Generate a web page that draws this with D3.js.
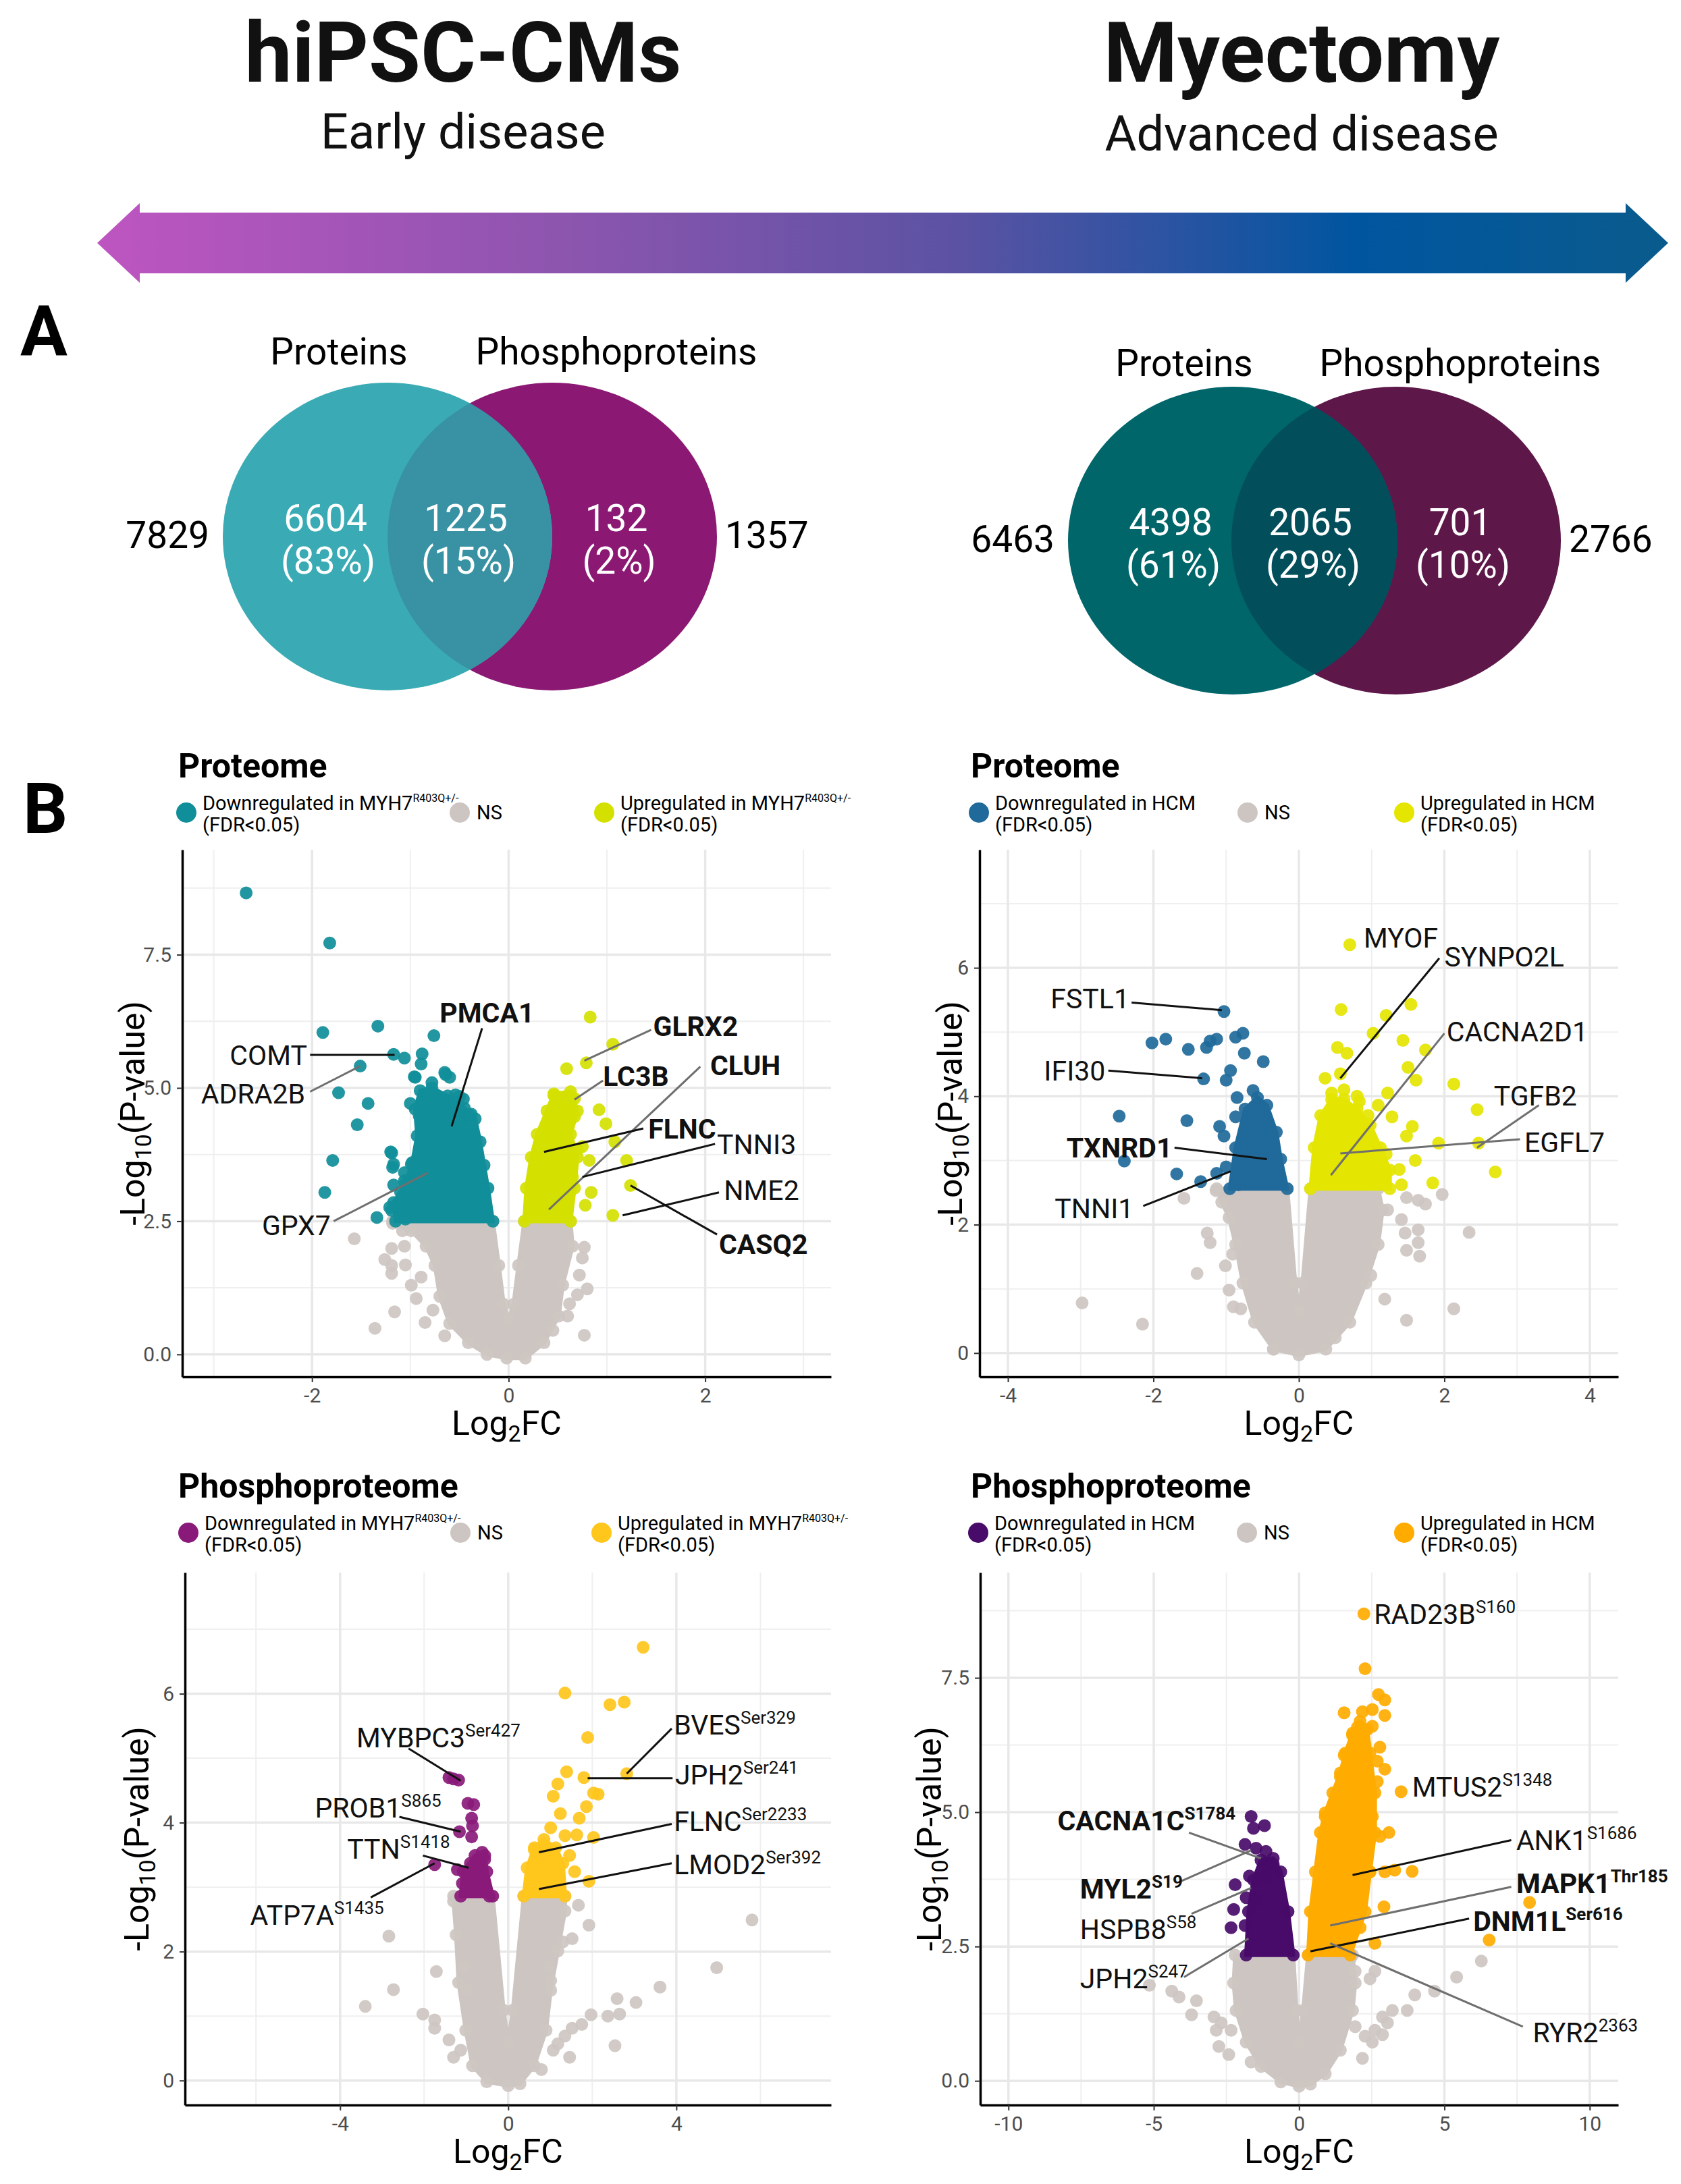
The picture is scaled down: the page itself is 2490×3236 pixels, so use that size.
<!DOCTYPE html>
<html>
<head>
<meta charset="utf-8">
<script src="https://cdn.jsdelivr.net/npm/d3@7"></script>
<style>
  body { margin: 0; background: #fff; }
  text { font-family: Roboto, "Noto Sans", sans-serif; }
</style>
</head>
<body>
<svg id="fig" width="2490" height="3236"></svg>
<script>
// header + venn values
const stageTitles = ["hiPSC-CMs", "Myectomy"];
const stageSubtitles = ["Early disease", "Advanced disease"];
const vennSetNames = ["Proteins", "Phosphoproteins"];
const vennTotals = [[7829, 1357], [6463, 2766]];
const vennCounts = [[6604, 1225, 132], [4398, 2065, 701]];
const vennPercents = [["83%", "15%", "2%"], ["61%", "29%", "10%"]];

// ---- top-left: hiPSC-CMs proteome ----
const tlNsCloud = [[-0.02,-0.07],[-0.22,0],[-0.41,0.22],[-0.60,0.58],[-0.70,1.09],[-0.75,1.67],[-0.84,2.03],[-0.99,2.32],[-1.18,2.46],[-1.18,2.5],[-0.16,2.5],[-0.10,1.67],[-0.05,0.94],[0,0.65],[0.05,0.94],[0.10,1.67],[0.16,2.5],[0.63,2.5],[0.65,2.03],[0.55,1.30],[0.51,0.72],[0.36,0.22],[0.17,-0.07]];
const tlNsPts = [[-1.57,2.17],[-1.19,1.99],[-1.06,2.03],[-1.26,1.78],[-1.19,1.67],[-1.19,1.52],[-1.05,1.68],[-1.16,0.80],[-1.36,0.49],[-0.94,1.05],[-0.77,0.83],[0.77,2.01],[0.75,1.81],[0.72,1.49],[0.80,1.23],[0.70,1.12],[0.77,0.36],[0.60,0.72],[-0.99,1.30],[-0.89,1.45],[-1.08,2.32],[-0.85,0.60],[-0.65,0.35],[0.45,0.45],[0.62,0.95]];
const tlDownCloud = [[-1.15,2.5],[-1.17,2.85],[-1.05,3.2],[-0.98,3.6],[-0.93,4.1],[-0.95,4.6],[-0.90,4.95],[-0.78,5.0],[-0.62,4.85],[-0.45,4.62],[-0.34,4.42],[-0.29,3.99],[-0.25,3.55],[-0.21,3.12],[-0.16,2.5]];
const tlDownPts = [[-2.67,8.66],[-1.82,7.72],[-1.89,6.04],[-1.33,6.16],[-0.76,5.98],[-1.17,5.63],[-1.06,5.56],[-0.88,5.64],[-0.89,5.45],[-1.51,5.41],[-1.73,4.91],[-1.43,4.71],[-1.54,4.31],[-1.79,3.64],[-1.87,3.04],[-1.34,2.57],[-1.19,3.78],[-1.18,3.51],[-1.19,2.70],[-1.05,2.54],[-0.64,5.25],[-0.99,3.57],[-1.06,3.26],[-0.75,3.04],[-0.50,4.84],[-0.40,4.49],[-0.60,5.20],[-0.95,5.20],[-1.10,3.05],[-1.12,2.80],[-1.20,3.80],[-1.17,3.57],[-1.17,3.18],[-1.21,2.76],[-1.06,3.41],[-1.01,3.02],[-0.65,5.29],[-0.54,4.87],[-0.46,4.79],[-0.38,4.51],[-1.00,4.71],[-0.91,4.48],[-0.96,5.21],[-0.78,5.10]];
const tlUpCloud = [[0.16,2.5],[0.18,3.12],[0.23,3.70],[0.29,4.13],[0.39,4.57],[0.46,4.89],[0.63,4.93],[0.70,4.57],[0.63,4.13],[0.70,3.70],[0.67,3.12],[0.63,2.5]];
const tlUpPts = [[0.83,6.33],[1.06,5.82],[0.59,5.36],[0.79,5.47],[0.46,4.86],[0.63,4.84],[0.67,4.80],[0.92,4.59],[0.99,4.33],[0.53,4.35],[0.67,4.46],[1.08,3.99],[1.20,3.64],[0.82,3.64],[0.84,3.04],[1.06,2.61],[1.24,3.17],[0.46,4.57],[0.39,4.13],[0.70,3.84],[0.65,3.33],[0.75,3.90],[0.78,2.80]];
// [gene, site, log2FC, -log10 p]
const tlLabels = [["PMCA1","",-0.58,4.28],["COMT","",-1.16,5.62],["ADRA2B","",-1.51,5.41],["GPX7","",-0.82,3.41],["GLRX2","",0.77,5.51],["LC3B","",0.67,4.78],["CLUH","",0.41,2.72],["FLNC","",0.36,3.80],["TNNI3","",0.75,3.33],["NME2","",1.16,2.61],["CASQ2","",1.24,3.17]];
// [text x, text y, leader x, leader y, anchor]
const tlLabelPlace = [[-0.22,6.41,-0.27,6.12,"middle"],[-2.05,5.62,-2.02,5.62,"end"],[-2.07,4.89,-2.02,4.93,"end"],[-1.81,2.43,-1.78,2.5,"end"],[1.47,6.16,1.45,6.09,"start"],[0.96,5.22,0.96,5.14,"start"],[2.05,5.43,1.95,5.40,"start"],[1.42,4.24,1.37,4.24,"start"],[2.12,3.95,2.10,3.95,"start"],[2.19,3.08,2.14,3.04,"start"],[2.14,2.07,2.12,2.25,"start"]];
const tlBold = ["PMCA1","GLRX2","LC3B","CLUH","FLNC","CASQ2"];
const tlGreyLeaders = ["ADRA2B","GPX7","GLRX2","LC3B","CLUH"];

// ---- top-right: myectomy proteome ----
const trNsCloud = [[0,-0.03],[-0.35,0.06],[-0.61,0.48],[-0.77,1.09],[-0.87,1.69],[-0.96,2.11],[-1.06,2.35],[-1.13,2.56],[-0.16,2.56],[-0.05,1.09],[0,0.66],[0.05,1.09],[0.16,2.56],[1.09,2.56],[1.15,2.23],[1.09,1.69],[0.92,1.09],[0.70,0.48],[0.37,0.06]];
const trNsPts = [[-1.58,2.41],[-1.14,2.53],[-1.26,1.87],[-1.22,1.72],[-0.91,1.54],[-1.01,1.36],[-1.40,1.24],[-0.96,0.98],[-2.98,0.78],[-2.15,0.45],[-0.90,0.72],[-0.80,0.69],[1.48,2.42],[1.64,2.38],[1.97,2.47],[1.74,2.32],[2.34,1.88],[1.46,1.87],[1.64,1.92],[1.64,1.72],[1.66,1.51],[1.48,1.60],[1.18,0.84],[2.13,0.69],[1.48,0.51],[0.99,1.21],[0.50,0.24],[-0.35,0.06],[1.22,2.23],[1.41,2.08]];
const trDownCloud = [[-0.95,2.56],[-0.87,3.20],[-0.74,3.80],[-0.57,3.98],[-0.44,3.86],[-0.31,3.44],[-0.25,3.02],[-0.16,2.56]];
const trDownPts = [[-1.03,5.32],[-2.02,4.83],[-1.83,4.89],[-1.52,4.73],[-1.27,4.76],[-1.22,4.86],[-1.13,4.89],[-0.87,4.92],[-0.77,4.98],[-0.75,4.67],[-0.49,4.54],[-1.31,4.27],[-0.94,4.40],[-1.00,4.25],[-0.63,4.09],[-0.85,3.98],[-2.47,3.69],[-1.54,3.62],[-2.40,2.99],[-1.68,2.79],[-1.35,2.67],[-1.09,3.53],[-1.03,3.38],[-1.13,2.80],[-0.87,3.68],[-0.83,2.62],[-1.00,2.90]];
const trUpCloud = [[0.16,2.56],[0.21,3.20],[0.30,3.70],[0.45,3.95],[0.62,3.95],[0.80,3.80],[0.98,3.55],[1.12,3.20],[1.25,2.85],[1.25,2.56]];
const trUpPts = [[0.70,6.36],[0.58,5.35],[1.54,5.43],[1.20,5.26],[1.02,4.98],[1.43,4.87],[0.53,4.76],[0.66,4.67],[1.74,4.72],[1.50,4.45],[1.61,4.25],[2.13,4.19],[0.36,4.28],[0.57,4.35],[1.22,4.05],[2.45,3.79],[1.92,3.27],[2.47,3.27],[2.70,2.82],[1.84,2.65],[1.56,3.53],[1.48,3.38],[1.28,3.68],[1.09,3.86],[0.34,3.41],[1.38,2.86],[1.41,2.62],[0.83,3.92],[1.60,3.00],[1.20,3.10],[0.62,4.10],[0.80,4.00],[0.45,4.05],[0.95,3.70]];
const trLabels = [["MYOF","",0.70,6.36],["SYNPO2L","",0.57,4.28],["FSTL1","",-1.06,5.34],["IFI30","",-1.33,4.28],["CACNA2D1","",0.44,2.77],["TGFB2","",2.45,3.20],["EGFL7","",0.57,3.11],["TXNRD1","",-0.44,3.02],["TNNI1","",-0.94,2.83]];
const trLabelPlace = [[0.89,6.47,null,null,"start"],[2.00,6.18,1.93,6.15,"start"],[-2.33,5.52,-2.30,5.46,"end"],[-2.66,4.40,-2.62,4.40,"end"],[2.03,5.01,2.00,4.98,"start"],[2.68,4.01,3.30,3.86,"start"],[3.10,3.29,3.04,3.33,"start"],[-1.74,3.20,-1.71,3.20,"end"],[-2.27,2.26,-2.14,2.29,"end"]];
const trBold = ["TXNRD1"];
const trGreyLeaders = ["CACNA2D1","TGFB2","EGFL7"];

// ---- bottom-left: hiPSC-CMs phosphoproteome ----
const blNsCloud = [[0,-0.08],[-0.51,-0.02],[-0.85,0.23],[-1.01,0.78],[-1.18,1.52],[-1.24,2.26],[-1.30,2.78],[-1.30,2.86],[-0.37,2.86],[-0.11,1.09],[0,0.60],[0.11,1.09],[0.37,2.86],[1.35,2.86],[1.35,2.63],[1.18,2.01],[1.01,1.40],[0.90,0.78],[0.62,0.23],[0.28,-0.05]];
const blNsPts = [[-2.84,2.24],[-1.71,1.69],[-2.73,1.41],[-3.40,1.15],[-2.03,1.03],[-1.75,0.94],[-1.75,0.81],[-1.41,0.63],[-1.30,0.36],[-1.13,0.47],[1.67,2.72],[1.92,2.41],[1.52,2.20],[1.30,2.15],[5.80,2.49],[4.96,1.75],[3.61,1.45],[3.04,1.21],[2.59,1.27],[2.65,1.03],[2.37,1.00],[1.97,1.02],[1.75,0.87],[1.52,0.81],[1.35,0.69],[1.18,0.57],[1.07,0.47],[2.54,0.54],[1.46,0.36],[0.79,0.17],[0.96,1.77],[1.01,1.55],[-1.07,1.77],[-0.99,1.40]];
const blDownCloud = [[-1.13,2.86],[-1.07,3.24],[-0.79,3.49],[-0.56,3.49],[-0.51,3.24],[-0.37,2.86]];
const blDownPts = [[-1.41,4.70],[-1.18,4.66],[-1.30,4.68],[-0.96,4.30],[-0.82,4.28],[-0.87,4.07],[-0.85,3.95],[-1.16,3.86],[-0.87,3.78],[-0.62,3.54],[-0.56,3.43],[-1.75,3.35],[-1.21,3.27],[-0.90,3.37],[-0.87,3.19],[-0.62,3.27],[-1.09,3.06],[-0.79,3.00],[-0.51,2.94],[-1.01,2.94],[-0.45,2.86]];
const blUpCloud = [[0.37,2.86],[0.45,3.30],[0.62,3.61],[0.85,3.74],[1.13,3.61],[1.30,3.37],[1.35,2.86]];
const blUpPts = [[3.21,6.72],[1.35,6.01],[2.42,5.83],[2.76,5.87],[1.89,5.32],[1.39,4.79],[1.80,4.70],[2.82,4.76],[2.03,4.46],[2.14,4.44],[1.18,4.60],[1.07,4.41],[1.86,4.25],[1.24,4.14],[1.69,4.07],[1.01,3.92],[1.63,3.81],[2.03,3.77],[1.35,3.80],[1.46,3.49],[1.58,3.24],[1.92,3.09],[0.62,3.58],[1.13,3.34]];
const blLabels = [["MYBPC3","Ser427",-1.13,4.65],["PROB1","S865",-1.13,3.86],["TTN","S1418",-0.94,3.30],["ATP7A","S1435",-1.75,3.37],["BVES","Ser329",2.82,4.76],["JPH2","Ser241",1.89,4.69],["FLNC","Ser2233",0.73,3.54],["LMOD2","Ser392",0.73,2.97]];
const blLabelPlace = [[-3.61,5.32,-2.37,5.15,"start"],[-4.60,4.23,-2.59,4.09,"start"],[-3.83,3.60,-2.03,3.49,"start"],[-6.14,2.57,-3.27,2.84,"start"],[3.94,5.52,3.89,5.46,"start"],[3.97,4.75,3.91,4.69,"start"],[3.94,4.03,3.89,3.98,"start"],[3.94,3.35,3.89,3.37,"start"]];
const blBold = [];
const blGreyLeaders = [];

// ---- bottom-right: myectomy phosphoproteome ----
const brNsCloud = [[0,-0.10],[-0.63,-0.02],[-1.31,0.27],[-1.82,0.72],[-2.17,1.31],[-2.25,1.82],[-2.20,2.34],[-0.20,2.34],[-0.09,1.31],[0,0.72],[0.14,1.31],[0.31,2.34],[1.84,2.34],[1.93,1.82],[1.84,1.31],[1.42,0.57],[0.90,0.13],[0.39,-0.06]];
const brNsPts = [[-5.15,1.78],[-4.38,1.67],[-4.13,1.56],[-3.53,1.49],[-3.70,1.23],[-2.93,1.19],[-2.85,0.94],[-2.68,1.08],[-2.34,0.94],[-2.76,0.64],[-2.42,0.49],[-1.65,0.35],[6.27,2.23],[5.42,1.93],[4.66,1.67],[3.98,1.60],[3.72,1.31],[3.21,1.31],[2.87,1.19],[3.04,1.08],[2.61,0.94],[2.27,0.83],[1.93,1.01],[2.87,0.86],[2.52,0.72],[2.18,0.42],[1.93,2.04],[2.61,2.04],[1.76,2.27],[2.44,1.90]];
const brDownCloud = [[-1.82,2.34],[-1.74,3.15],[-1.57,3.74],[-1.31,4.11],[-0.89,4.14],[-0.63,3.89],[-0.38,3.15],[-0.20,2.34]];
const brDownPts = [[-1.65,4.92],[-1.19,4.75],[-1.57,4.70],[-1.86,4.40],[-1.48,4.33],[-1.14,4.27],[-0.89,4.03],[-1.71,3.81],[-2.20,3.65],[-1.82,3.41],[-2.25,3.19],[-2.34,2.85],[-1.86,2.89],[-1.48,3.37],[-1.14,3.81]];
const brUpCloud = [[0.31,2.34],[0.39,3.15],[0.56,3.89],[0.73,4.62],[0.90,4.99],[1.16,5.36],[1.42,5.73],[1.59,6.10],[1.84,6.47],[2.10,6.69],[2.35,6.54],[2.44,6.10],[2.61,5.36],[2.61,4.62],[2.44,3.89],[2.27,3.15],[1.76,2.34]];
const brUpPts = [[2.23,8.69],[2.27,7.67],[2.73,7.19],[2.95,7.09],[1.55,6.85],[2.18,6.87],[2.52,6.91],[2.95,6.80],[2.52,6.60],[2.01,6.58],[1.84,6.43],[2.27,6.25],[2.78,6.21],[1.55,6.06],[2.69,5.95],[2.95,5.80],[2.27,5.69],[1.42,5.66],[2.69,5.57],[3.51,5.38],[1.59,5.36],[2.44,5.21],[1.42,5.07],[0.90,4.92],[2.52,4.92],[3.09,4.62],[2.78,4.55],[2.27,4.33],[3.29,3.92],[3.89,3.90],[2.95,3.89],[2.44,3.89],[2.92,3.24],[7.93,3.32],[6.54,2.62],[2.61,2.56],[2.10,2.85]];
const brLabels = [["RAD23B","S160",2.23,8.69],["MTUS2","S1348",3.51,5.38],["CACNA1C","S1784",-1.31,4.14],["MYL2","S19",-1.65,4.29],["HSPB8","S58",-1.65,3.59],["JPH2","S247",-1.74,2.65],["ANK1","S1686",1.84,3.83],["MAPK1","Thr185",1.07,2.89],["DNM1L","Ser616",0.39,2.41],["RYR2","2363",1.07,2.56]];
const brLabelPlace = [[2.58,8.69,null,null,"start"],[3.89,5.47,null,null,"start"],[-8.31,4.85,-3.79,4.62,"start"],[-7.54,3.58,-4.13,3.70,"start"],[-7.54,2.82,-3.70,3.11,"start"],[-7.54,1.91,-3.96,1.93,"start"],[7.47,4.48,7.30,4.48,"start"],[7.47,3.68,7.30,3.61,"start"],[5.99,2.98,5.85,3.02,"start"],[8.04,0.90,7.70,1.01,"start"]];
const brBold = ["CACNA1C","MYL2","MAPK1","DNM1L"];
const brGreyLeaders = ["CACNA1C","MYL2","HSPB8","JPH2","MAPK1","RYR2"];

const svg = d3.select("#fig");
const defs = svg.append("defs");

// ---------- header ----------
const grad = defs.append("linearGradient").attr("id", "stageGrad")
  .attr("x1", "0%").attr("x2", "100%").attr("y1", "0%").attr("y2", "0%");
[[0, "#be55c1"], [0.3, "#8c55ae"], [0.55, "#5b52a3"], [0.8, "#0055a0"], [1, "#0a5b8c"]]
  .forEach(s => grad.append("stop").attr("offset", s[0]).attr("stop-color", s[1]));

const arrowPath = d3.path();
arrowPath.moveTo(144, 360);
arrowPath.lineTo(207, 301);
arrowPath.lineTo(207, 315);
arrowPath.lineTo(2408, 315);
arrowPath.lineTo(2408, 301);
arrowPath.lineTo(2471, 360);
arrowPath.lineTo(2408, 419);
arrowPath.lineTo(2408, 405);
arrowPath.lineTo(207, 405);
arrowPath.lineTo(207, 419);
arrowPath.closePath();
svg.append("path").attr("d", arrowPath.toString()).attr("fill", "url(#stageGrad)");

const stageX = [686, 1928];
stageTitles.forEach((t, i) => {
  svg.append("text").attr("x", stageX[i]).attr("y", 121).attr("text-anchor", "middle")
    .attr("font-size", 125).attr("font-weight", 700).attr("fill", "#111").text(t);
  svg.append("text").attr("x", stageX[i]).attr("y", [220, 223][i]).attr("text-anchor", "middle")
    .attr("font-size", 72).attr("fill", "#111").text(stageSubtitles[i]);
});

svg.append("text").attr("x", 30).attr("y", 527).attr("font-size", 104).attr("font-weight", 700).text("A");
svg.append("text").attr("x", 34).attr("y", 1234).attr("font-size", 104).attr("font-weight", 700).text("B");

// ---------- venn diagrams ----------
const vennLayout = [
  { cx: [574, 818], cy: 795, nameY: 540, colors: ["#3aabb4", "#8b1872", "#3992a3"] },
  { cx: [1826, 2068], cy: 801, nameY: 557, colors: ["#00666a", "#5d1749", "#024e5b"] }
];
const rx = 244, ry = 228;
vennLayout.forEach((v, i) => {
  const g = svg.append("g");
  g.append("ellipse").attr("cx", v.cx[1]).attr("cy", v.cy).attr("rx", rx).attr("ry", ry).attr("fill", v.colors[1]);
  g.append("ellipse").attr("cx", v.cx[0]).attr("cy", v.cy).attr("rx", rx).attr("ry", ry).attr("fill", v.colors[0]);
  defs.append("clipPath").attr("id", "vclip" + i)
    .append("ellipse").attr("cx", v.cx[0]).attr("cy", v.cy).attr("rx", rx).attr("ry", ry);
  g.append("ellipse").attr("cx", v.cx[1]).attr("cy", v.cy).attr("rx", rx).attr("ry", ry)
    .attr("fill", v.colors[2]).attr("clip-path", `url(#vclip${i})`);

  // set names
  g.append("text").attr("x", v.cx[0] - 72).attr("y", v.nameY).attr("text-anchor", "middle")
    .attr("font-size", 55).text(vennSetNames[0]);
  g.append("text").attr("x", v.cx[1] + 95).attr("y", v.nameY).attr("text-anchor", "middle")
    .attr("font-size", 55).text(vennSetNames[1]);
  // totals
  g.append("text").attr("x", v.cx[0] - rx - 20).attr("y", v.cy + 17).attr("text-anchor", "end")
    .attr("font-size", 55).text(vennTotals[i][0]);
  g.append("text").attr("x", v.cx[1] + rx + 12).attr("y", v.cy + 17).attr("text-anchor", "start")
    .attr("font-size", 55).text(vennTotals[i][1]);
  // region counts
  const regionX = [v.cx[0] - 92, (v.cx[0] + v.cx[1]) / 2 - 6, v.cx[1] + 95];
  vennCounts[i].forEach((c, k) => {
    g.append("text").attr("x", regionX[k]).attr("y", v.cy - 8).attr("text-anchor", "middle")
      .attr("font-size", 55).attr("fill", "#fff").text(c);
    g.append("text").attr("x", regionX[k] + 4).attr("y", v.cy + 55).attr("text-anchor", "middle")
      .attr("font-size", 55).attr("fill", "#fff").text(`(${vennPercents[i][k]})`);
  });
});

// ---------- volcano plots ----------
const nsColor = "#cdc5c1";

function drawVolcano(p) {
  const g = svg.append("g");
  const x = d3.scaleLinear().domain(p.xDomain).range([p.left, p.right]);
  const y = d3.scaleLinear().domain(p.yDomain).range([p.bottom, p.top]);

  // title + legend
  g.append("text").attr("x", p.titleX).attr("y", p.titleY).attr("font-size", 50)
    .attr("font-weight", 700).text(p.title);
  const ly = p.titleY + 52;
  const legendItems = [
    { c: p.downColor, t: "Downregulated in " + p.group },
    { c: nsColor, t: "NS" },
    { c: p.upColor, t: "Upregulated in " + p.group }
  ];
  legendItems.forEach((it, k) => {
    const cx = p.legendX[k];
    g.append("circle").attr("cx", cx).attr("cy", ly).attr("r", 15).attr("fill", it.c);
    if (k === 1) {
      g.append("text").attr("x", cx + 25).attr("y", ly + 10).attr("font-size", 29).text(it.t);
    } else {
      const t = g.append("text").attr("x", cx + 24).attr("y", ly - 4).attr("font-size", 29);
      t.append("tspan").text(it.t);
      if (p.groupSup) t.append("tspan").attr("font-size", 16).attr("dy", -12).text(p.groupSup);
      g.append("text").attr("x", cx + 24).attr("y", ly + 28).attr("font-size", 29).text("(FDR<0.05)");
    }
  });

  // grid
  const grid = g.append("g");
  p.xMinor.forEach(v => grid.append("line").attr("x1", x(v)).attr("x2", x(v))
    .attr("y1", p.top).attr("y2", p.bottom).attr("stroke", "#efefef").attr("stroke-width", 2));
  p.yMinor.forEach(v => grid.append("line").attr("y1", y(v)).attr("y2", y(v))
    .attr("x1", p.left).attr("x2", p.right).attr("stroke", "#efefef").attr("stroke-width", 2));
  p.xTicks.forEach(v => grid.append("line").attr("x1", x(v)).attr("x2", x(v))
    .attr("y1", p.top).attr("y2", p.bottom).attr("stroke", "#e8e8e8").attr("stroke-width", 3.5));
  p.yTicks.forEach(v => grid.append("line").attr("y1", y(v)).attr("y2", y(v))
    .attr("x1", p.left).attr("x2", p.right).attr("stroke", "#e8e8e8").attr("stroke-width", 3.5));

  // dense point clouds (outline) plus single points
  const line = d3.line().x(d => x(d[0])).y(d => y(d[1])).curve(d3.curveLinearClosed);
  const layer = (cloud, pts, color) => {
    g.append("path").attr("d", line(cloud)).attr("fill", color)
      .attr("stroke", color).attr("stroke-width", 6).attr("stroke-linejoin", "round");
    g.selectAll(null).data(cloud.concat(pts)).enter().append("circle")
      .attr("cx", d => x(d[0])).attr("cy", d => y(d[1])).attr("r", 9.5)
      .attr("fill", color).attr("fill-opacity", 0.92);
  };
  layer(p.nsCloud, p.nsPts, nsColor);
  layer(p.downCloud, p.downPts, p.downColor);
  layer(p.upCloud, p.upPts, p.upColor);

  // axes
  const xAxis = d3.axisBottom(x).tickValues(p.xTicks).tickFormat(p.xFmt).tickSizeInner(8).tickSizeOuter(0).tickPadding(9);
  const yAxis = d3.axisLeft(y).tickValues(p.yTicks).tickFormat(p.yFmt).tickSizeInner(8).tickSizeOuter(0).tickPadding(8);
  const gx = g.append("g").attr("transform", `translate(0,${p.bottom})`).call(xAxis);
  const gy = g.append("g").attr("transform", `translate(${p.left},0)`).call(yAxis);
  [gx, gy].forEach(a => {
    a.attr("font-family", null).attr("font-size", 30);
    a.select(".domain").attr("stroke", "#000").attr("stroke-width", 3.5);
    a.selectAll(".tick line").attr("stroke", "#333").attr("stroke-width", 2);
    a.selectAll(".tick text").attr("fill", "#4d4d4d");
  });

  // axis titles
  const xt = g.append("text").attr("x", (p.left + p.right) / 2).attr("y", p.bottom + 86)
    .attr("text-anchor", "middle").attr("font-size", 50);
  xt.append("tspan").text("Log");
  xt.append("tspan").attr("font-size", 34).attr("dy", 10).text("2");
  xt.append("tspan").attr("dy", -10).text("FC");
  const yt = g.append("text").attr("transform", `translate(${p.left - p.yTitleOffset},${(p.top + p.bottom) / 2}) rotate(-90)`)
    .attr("text-anchor", "middle").attr("dy", "0.35em").attr("font-size", 50);
  yt.append("tspan").text("-Log");
  yt.append("tspan").attr("font-size", 34).attr("dy", 10).text("10");
  yt.append("tspan").attr("dy", -10).text("(P-value)");

  // labels with leader lines
  p.labels.forEach((lab, k) => {
    const pl = p.place[k];
    if (pl[2] !== null) {
      g.append("line").attr("x1", x(pl[2])).attr("y1", y(pl[3])).attr("x2", x(lab[2])).attr("y2", y(lab[3]))
        .attr("stroke", p.grey.includes(lab[0]) ? "#6f6f6f" : "#111").attr("stroke-width", 3);
    }
  });
  p.labels.forEach((lab, k) => {
    const pl = p.place[k];
    const t = g.append("text").attr("x", x(pl[0])).attr("y", y(pl[1])).attr("dy", "0.36em")
      .attr("text-anchor", pl[4]).attr("font-size", 41)
      .attr("font-weight", p.bold.includes(lab[0]) ? 700 : 400).attr("fill", "#111");
    t.append("tspan").text(lab[0]);
    if (lab[1]) t.append("tspan").attr("font-size", 26).attr("dy", -16).text(lab[1]);
  });
}

const fmt1 = d3.format(".1f");
const fmtInt = d => String(d);

drawVolcano({
  title: "Proteome", titleX: 264, titleY: 1152, group: "MYH7", groupSup: "R403Q+/-",
  legendX: [276, 681, 895],
  left: 270, right: 1231, top: 1259, bottom: 2040,
  xDomain: [-3.32, 3.28], yDomain: [-0.42, 9.47],
  xTicks: [-2, 0, 2], xMinor: [-3, -1, 1, 3], yTicks: [0, 2.5, 5, 7.5], yMinor: [1.25, 3.75, 6.25, 8.75],
  xFmt: fmtInt, yFmt: fmt1, yTitleOffset: 74,
  downColor: "#108e99", upColor: "#d4e100",
  nsCloud: tlNsCloud, nsPts: tlNsPts, downCloud: tlDownCloud, downPts: tlDownPts, upCloud: tlUpCloud, upPts: tlUpPts,
  labels: tlLabels, place: tlLabelPlace, bold: tlBold, grey: tlGreyLeaders
});

drawVolcano({
  title: "Proteome", titleX: 1438, titleY: 1152, group: "HCM", groupSup: "",
  legendX: [1450, 1848, 2080],
  left: 1451, right: 2397, top: 1259, bottom: 2040,
  xDomain: [-4.39, 4.39], yDomain: [-0.37, 7.84],
  xTicks: [-4, -2, 0, 2, 4], xMinor: [-3, -1, 1, 3], yTicks: [0, 2, 4, 6], yMinor: [1, 3, 5, 7],
  xFmt: fmtInt, yFmt: fmtInt, yTitleOffset: 44,
  downColor: "#1f6a9a", upColor: "#e4e500",
  nsCloud: trNsCloud, nsPts: trNsPts, downCloud: trDownCloud, downPts: trDownPts, upCloud: trUpCloud, upPts: trUpPts,
  labels: trLabels, place: trLabelPlace, bold: trBold, grey: trGreyLeaders
});

drawVolcano({
  title: "Phosphoproteome", titleX: 264, titleY: 2219, group: "MYH7", groupSup: "R403Q+/-",
  legendX: [279, 682, 891],
  left: 274, right: 1231, top: 2330, bottom: 3119,
  xDomain: [-7.69, 7.68], yDomain: [-0.38, 7.88],
  xTicks: [-4, 0, 4], xMinor: [-6, -2, 2, 6], yTicks: [0, 2, 4, 6], yMinor: [1, 3, 5, 7],
  xFmt: fmtInt, yFmt: fmtInt, yTitleOffset: 72,
  downColor: "#8a1a79", upColor: "#ffc61c",
  nsCloud: blNsCloud, nsPts: blNsPts, downCloud: blDownCloud, downPts: blDownPts, upCloud: blUpCloud, upPts: blUpPts,
  labels: blLabels, place: blLabelPlace, bold: blBold, grey: blGreyLeaders
});

drawVolcano({
  title: "Phosphoproteome", titleX: 1438, titleY: 2219, group: "HCM", groupSup: "",
  legendX: [1449, 1847, 2080],
  left: 1452, right: 2397, top: 2330, bottom: 3119,
  xDomain: [-10.97, 10.98], yDomain: [-0.45, 9.46],
  xTicks: [-10, -5, 0, 5, 10], xMinor: [-7.5, -2.5, 2.5, 7.5], yTicks: [0, 2.5, 5, 7.5], yMinor: [1.25, 3.75, 6.25, 8.75],
  xFmt: fmtInt, yFmt: fmt1, yTitleOffset: 76,
  downColor: "#480b69", upColor: "#ffab00",
  nsCloud: brNsCloud, nsPts: brNsPts, downCloud: brDownCloud, downPts: brDownPts, upCloud: brUpCloud, upPts: brUpPts,
  labels: brLabels, place: brLabelPlace, bold: brBold, grey: brGreyLeaders
});
</script>
</body>
</html>
